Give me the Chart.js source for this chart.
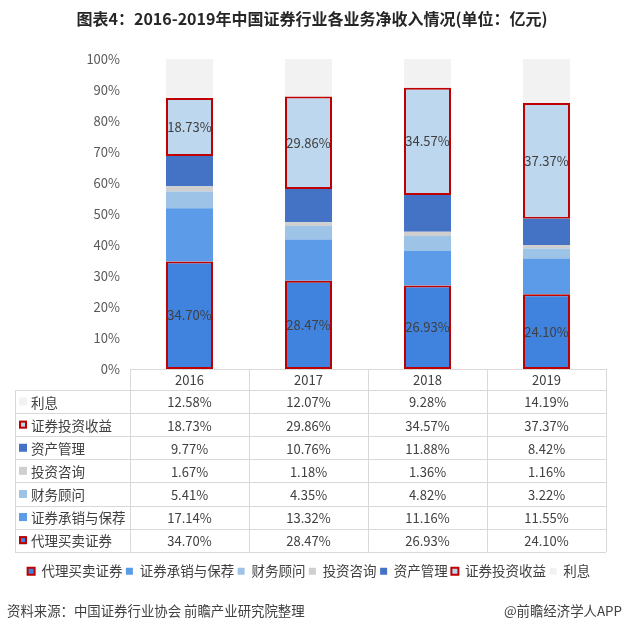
<!DOCTYPE html>
<html>
<head>
<meta charset="utf-8">
<script src="https://cdn.jsdelivr.net/npm/chart.js@4/dist/chart.umd.min.js"></script>
<style>
  html, body { margin: 0; padding: 0; background: #fff; }
  #wrap { width: 625px; height: 634px; }
</style>
</head>
<body>
<div id="wrap"><canvas id="chart" width="625" height="634"></canvas></div>
<script>
// data (share of net income, %)
const years = ['2016', '2017', '2018', '2019'];
const brokerage = [34.70, 28.47, 26.93, 24.10];     // 代理买卖证券
const underwriting = [17.14, 13.32, 11.16, 11.55];  // 证券承销与保荐
const advisory = [5.41, 4.35, 4.82, 3.22];          // 财务顾问
const consulting = [1.67, 1.18, 1.36, 1.16];        // 投资咨询
const assetMgmt = [9.77, 10.76, 11.88, 8.42];       // 资产管理
const investIncome = [18.73, 29.86, 34.57, 37.37];  // 证券投资收益
const interest = [12.58, 12.07, 9.28, 14.19];       // 利息
const yTicks = [0, 10, 20, 30, 40, 50, 60, 70, 80, 90, 100];

const FONT = '"Noto Sans CJK SC", "Microsoft YaHei", sans-serif';
const TEXT = '#404040';
const RED = '#c00000';
const GRID = '#d9d9d9';

const series = [
  { label: '代理买卖证券', data: brokerage, color: '#3f83df', border: true },
  { label: '证券承销与保荐', data: underwriting, color: '#5b9be8', border: false },
  { label: '财务顾问', data: advisory, color: '#9dc3e6', border: false },
  { label: '投资咨询', data: consulting, color: '#cfcfcf', border: false },
  { label: '资产管理', data: assetMgmt, color: '#4472c4', border: false },
  { label: '证券投资收益', data: investIncome, color: '#bdd7ee', border: true },
  { label: '利息', data: interest, color: '#f2f2f2', border: false }
];

const fmt = v => v.toFixed(2) + '%';

// title + source lines
const frameText = {
  id: 'frameText',
  afterDraw(chart) {
    const ctx = chart.ctx;
    ctx.save();
    ctx.fillStyle = '#262626';
    ctx.font = 'bold 16px ' + FONT;
    ctx.textAlign = 'center';
    ctx.textBaseline = 'middle';
    ctx.fillText('图表4：2016-2019年中国证券行业各业务净收入情况(单位：亿元)', 312, 19);

    ctx.fillStyle = TEXT;
    ctx.font = '13.4px ' + FONT;
    ctx.textAlign = 'left';
    ctx.fillText('资料来源：中国证券行业协会 前瞻产业研究院整理', 7, 611);
    ctx.textAlign = 'right';
    ctx.fillText('@前瞻经济学人APP', 622, 611);
    ctx.restore();
  }
};

// value labels inside the outlined segments
const barLabels = {
  id: 'barLabels',
  afterDatasetsDraw(chart) {
    const ctx = chart.ctx;
    ctx.save();
    ctx.fillStyle = TEXT;
    ctx.font = '13px ' + FONT;
    ctx.textAlign = 'center';
    ctx.textBaseline = 'middle';
    chart.data.datasets.forEach((ds, di) => {
      if (!series[di].border) return;
      chart.getDatasetMeta(di).data.forEach((bar, i) => {
        const p = bar.getProps(['x', 'y', 'base'], true);
        ctx.fillText(fmt(ds.data[i]), p.x, (p.y + p.base) / 2);
      });
    });
    ctx.restore();
  }
};

// data table drawn in the space reserved under the plot
const dataTable = {
  id: 'dataTable',
  afterDraw(chart) {
    const { ctx, chartArea } = chart;
    const xs = chart.scales.x;
    const top = chartArea.bottom;
    const headH = 21;
    const rowH = 23.1;
    const left = 15;
    const colW = (chartArea.right - chartArea.left) / years.length;
    const rows = series.slice().reverse();
    const bottom = top + headH + rows.length * rowH;

    ctx.save();
    ctx.strokeStyle = GRID;
    ctx.lineWidth = 1;
    ctx.beginPath();
    // header top line
    ctx.moveTo(chartArea.left, top + 0.5);
    ctx.lineTo(chartArea.right, top + 0.5);
    for (let r = 0; r <= rows.length; r++) {
      const y = Math.round(top + headH + r * rowH) + 0.5;
      ctx.moveTo(left, y);
      ctx.lineTo(chartArea.right, y);
    }
    ctx.moveTo(left + 0.5, top + headH);
    ctx.lineTo(left + 0.5, bottom);
    for (let c = 0; c <= years.length; c++) {
      const x = Math.round(chartArea.left + c * colW) + 0.5;
      ctx.moveTo(x, top);
      ctx.lineTo(x, bottom);
    }
    ctx.stroke();

    ctx.fillStyle = TEXT;
    ctx.textBaseline = 'middle';
    ctx.textAlign = 'center';
    ctx.font = '13px ' + FONT;
    years.forEach((yr, i) => {
      ctx.fillText(yr, xs.getPixelForValue(i), top + headH / 2 + 1);
    });

    rows.forEach((s, r) => {
      const cy = top + headH + r * rowH + rowH / 2;
      // marker
      ctx.fillStyle = s.color;
      ctx.fillRect(19, cy - 4, 8, 8);
      if (s.border) {
        ctx.strokeStyle = RED;
        ctx.lineWidth = 2;
        ctx.strokeRect(20, cy - 3, 6, 6);
      }
      ctx.fillStyle = TEXT;
      ctx.textAlign = 'left';
      ctx.font = '13.5px ' + FONT;
      ctx.fillText(s.label, 31, cy + 1);
      ctx.textAlign = 'center';
      ctx.font = '13px ' + FONT;
      s.data.forEach((v, i) => {
        ctx.fillText(fmt(v), xs.getPixelForValue(i), cy + 1);
      });
    });
    ctx.restore();
  }
};

new Chart(document.getElementById('chart'), {
  type: 'bar',
  data: {
    labels: years,
    datasets: series.map(s => ({
      label: s.label,
      data: s.data,
      backgroundColor: s.color,
      borderColor: s.border ? RED : s.color,
      borderWidth: s.border ? 2 : 0,
      borderSkipped: false,
      categoryPercentage: 1,
      barPercentage: 0.395
    }))
  },
  options: {
    responsive: false,
    animation: false,
    layout: { padding: { top: 59, left: 12, right: 19, bottom: 46 } },
    scales: {
      x: {
        stacked: true,
        grid: { display: false, drawTicks: false },
        border: { display: false },
        ticks: { display: false },
        afterFit(s) { s.height = 192; }
      },
      y: {
        stacked: true,
        min: 0,
        max: 100,
        afterBuildTicks(s) { s.ticks = yTicks.map(v => ({ value: v })); },
        grid: { display: false, drawTicks: false },
        border: { display: false },
        ticks: {
          padding: 10,
          color: '#595959',
          font: { family: FONT, size: 13 },
          callback: v => v + '%'
        },
        afterFit(s) { s.width = 118; }
      }
    },
    plugins: {
      legend: {
        position: 'bottom',
        labels: {
          boxWidth: 7,
          boxHeight: 7,
          padding: 3.5,
          color: TEXT,
          font: { family: FONT, size: 13.5 }
        }
      },
      tooltip: { enabled: false }
    }
  },
  plugins: [barLabels, dataTable, frameText]
});
</script>
</body>
</html>
